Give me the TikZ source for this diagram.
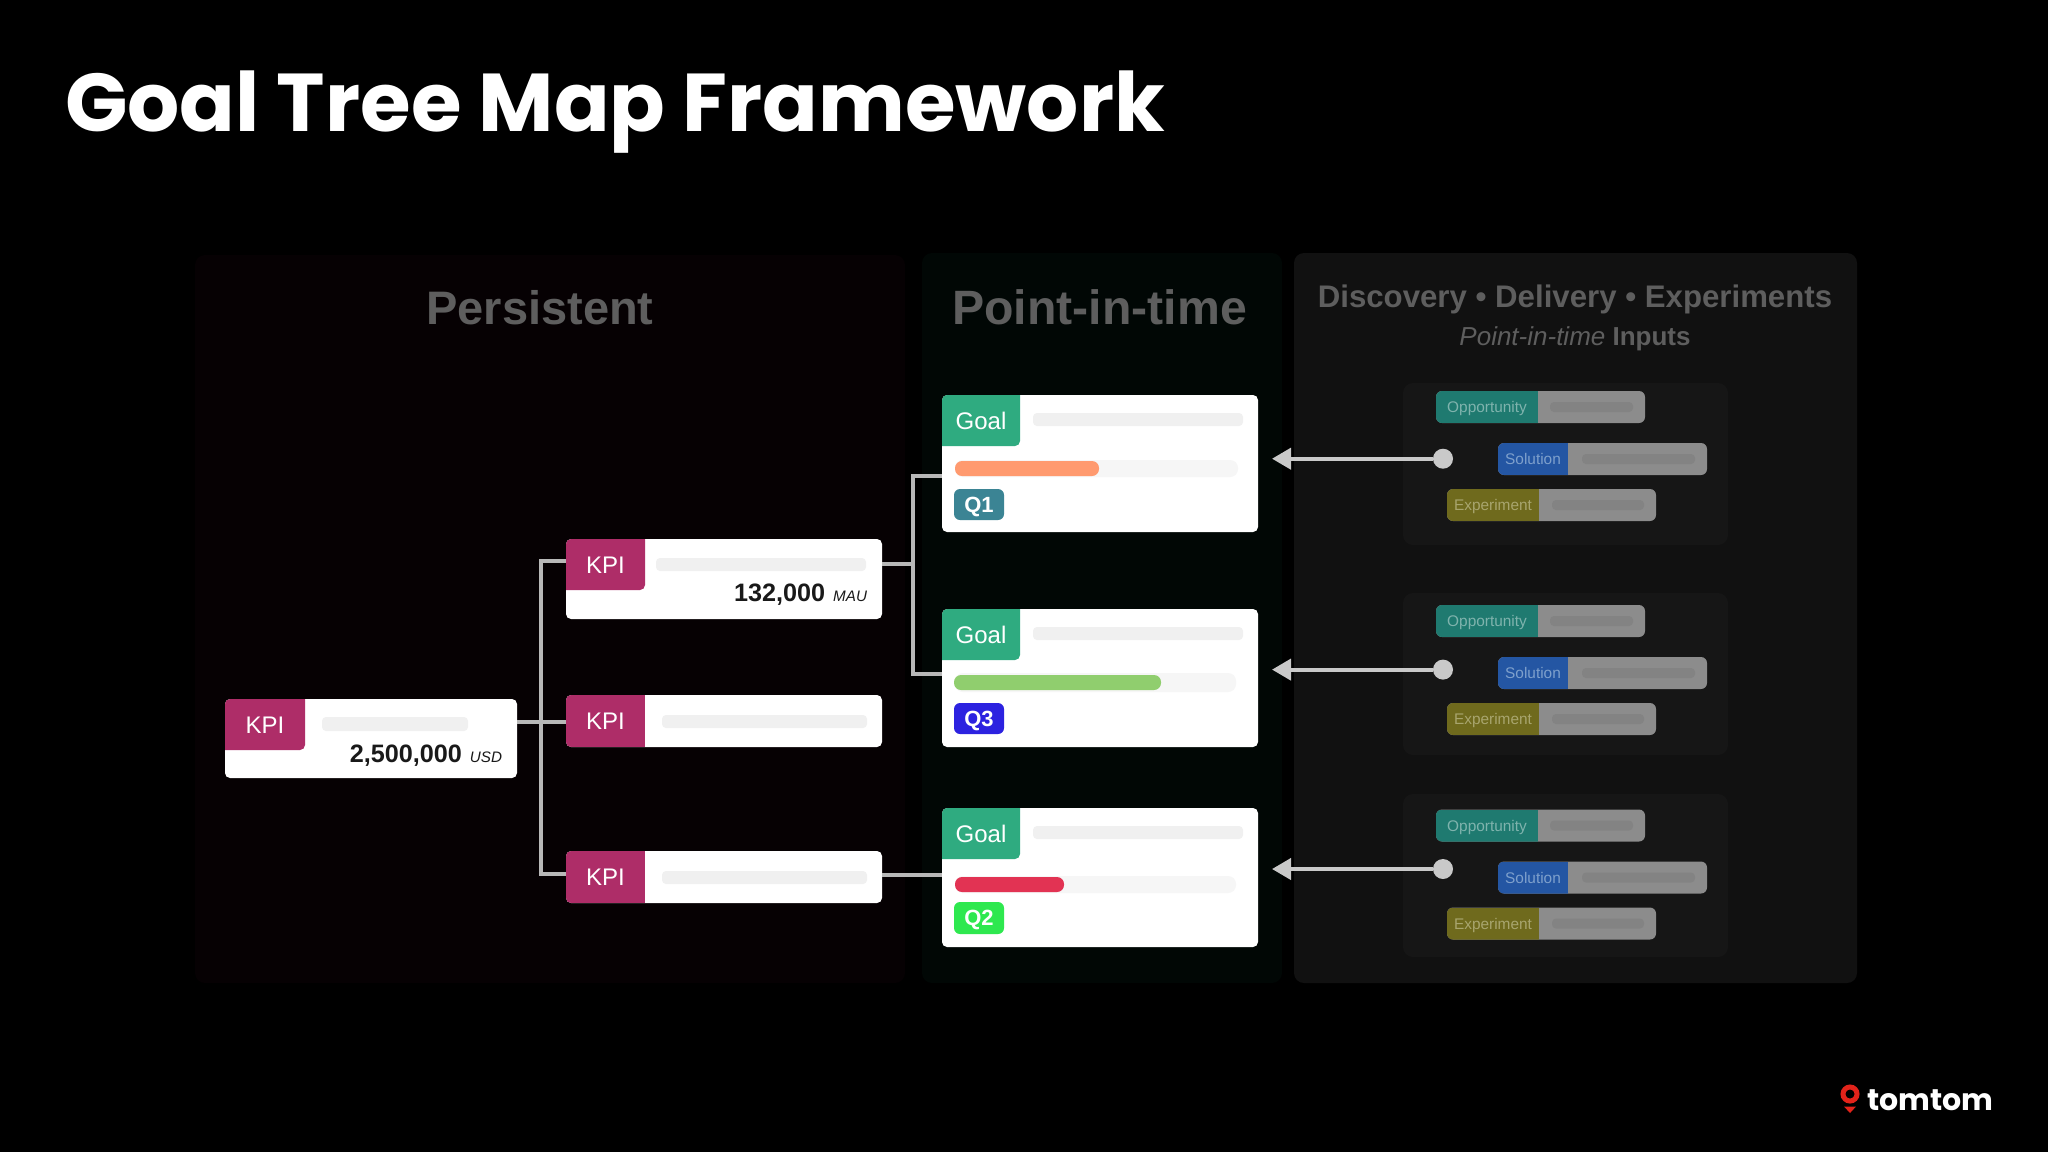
\documentclass[tikz,border=0pt]{standalone}
\usepackage{fontspec}
\usetikzlibrary{arrows.meta}
\setmainfont{Liberation Sans}
\newfontfamily\popf{Poppins}
\definecolor{pPers}{HTML}{060103}
\definecolor{pPoint}{HTML}{010705}
\definecolor{pDisc}{HTML}{111111}
\definecolor{pGroup}{HTML}{161616}
\definecolor{headC}{HTML}{5E5E5E}
\definecolor{lineC}{HTML}{B8B8B8}
\definecolor{arrC}{HTML}{C9C9C9}
\definecolor{kpiC}{HTML}{AE2D68}
\definecolor{goalC}{HTML}{2FAB80}
\definecolor{barC}{HTML}{F0F0F0}
\definecolor{trackC}{HTML}{F6F6F6}
\definecolor{oppC}{HTML}{1F7A70}
\definecolor{solC}{HTML}{2456A3}
\definecolor{expC}{HTML}{6F6A1D}
\definecolor{oppT}{HTML}{7FB3AD}
\definecolor{solT}{HTML}{7EA0CC}
\definecolor{expT}{HTML}{A8A56E}
\definecolor{inGray}{HTML}{8C8C8C}
\definecolor{inBar}{HTML}{838383}
\tikzset{
  plainbox/.style={inner sep=0pt,outer sep=0pt},
  panel/.style={plainbox,rounded corners=5pt},
  card/.style={plainbox,fill=white,rounded corners=2.5pt},
  pill/.style={plainbox,rounded corners=3pt},
  conn/.style={draw=lineC,line width=1.8pt},
  feed/.style={draw=arrC,line width=2pt,-{Triangle[length=9.5pt,width=10.5pt]}},
  dotnode/.style={circle,fill=arrC,inner sep=0pt,outer sep=0pt,minimum size=10pt},
  tabtext/.style={plainbox,text=white,text height=8.6pt,text depth=0pt,font=\fontsize{12}{14}\selectfont},
  head/.style={text=headC,font=\fontsize{23.5}{28}\selectfont\bfseries},
  num/.style={anchor=base east,plainbox,text=black!90,font=\fontsize{12.6}{15}\selectfont\bfseries},
  qtext/.style={plainbox,text=white,text height=7.9pt,text depth=0pt,font=\fontsize{11}{13}\selectfont\bfseries},
}
\newcommand{\bx}[7]{%
  \pgfmathsetmacro\bxw{(#5-#3)/2}\pgfmathsetmacro\bxh{(#6-#4)/2}%
  \node[#2,minimum width=\bxw pt,minimum height=\bxh pt] (#1) at ({(#3+#5)/2},{(#4+#6)/2}) {#7};}
% name, colour, card, x1,y1,x2,y2, radius, text
\newcommand{\tabbox}[9]{%
  \begin{scope}
  \clip[rounded corners=2.5pt] (#3.south west) rectangle (#3.north east);
  \fill[#2,rounded corners=#8] ({#4-20},{#5-20}) rectangle (#6,#7);
  \end{scope}
  \bx{#1}{tabtext}{#4}{#5}{#6}{#7}{#9}}
\newcommand{\unitt}[1]{\hspace{4pt}{\fontsize{7.6}{9}\selectfont\mdseries\itshape #1}}
% group: index, y offset of bars, box top, box bottom
\newcommand{\inputs}[4]{%
  \bx{grp#1}{panel,fill=pGroup}{1403}{#3}{1728}{#4}{}
  \foreach \nm/\xa/\xb/\xc/\ya/\colr/\colt/\lab/\ba/\bb in {
     o/1436/1538/1645/391/oppC/oppT/Opportunity/1550/1633,
     s/1498/1568/1707/443/solC/solT/Solution/1582/1695,
     e/1447/1539/1656/489/expC/expT/Experiment/1552/1644}{
    \pgfmathsetmacro\yt{\ya+#2}\pgfmathsetmacro\yb{\ya+#2+32}
    \pgfmathsetmacro\bt{\ya+#2+11}\pgfmathsetmacro\bbo{\ya+#2+21}
    \bx{in#1\nm}{pill,fill=inGray}{\xa}{\yt}{\xc}{\yb}{}
    \begin{scope}
      \clip[rounded corners=3pt] (in#1\nm.south west) rectangle (in#1\nm.north east);
      \fill[\colr] (\xa,\yt) rectangle (\xb,\yb);
    \end{scope}
    \bx{lab#1\nm}{plainbox,text=\colt,text height=5.6pt,text depth=0pt,font=\fontsize{7.7}{9}\selectfont}{\xa}{\yt}{\xb}{\yb}{\lab}
    \bx{inb#1\nm}{plainbox,fill=inBar,rounded corners=2pt}{\ba}{\bt}{\bb}{\bbo}{}
  }}
\begin{document}
\begin{tikzpicture}[x=0.5pt,y=-0.5pt]
\useasboundingbox (0,0) rectangle (2048,1152);
\fill[black] (0,0) rectangle (2048,1152);
% title
\node[anchor=base west,plainbox,text=white,font=\fontsize{41}{50}\selectfont\popf\bfseries] (title) at (65,131) {Goal Tree Map Framework};
% panels
\bx{persist}{panel,fill=pPers}{195}{255}{905}{983}{}
\bx{pointp}{panel,fill=pPoint}{922}{253}{1282}{983}{}
\bx{discp}{panel,fill=pDisc}{1294}{253}{1857}{983}{}
\node[head,anchor=base,plainbox] (hpers) at (540,324) {Persistent};
\node[head,anchor=base,plainbox,font=\fontsize{24.1}{28}\selectfont\bfseries] (hpoint) at (1099.5,324) {Point-in-time};
\node[text=headC,anchor=base,plainbox,font=\fontsize{15.6}{19}\selectfont\bfseries] (hdisc) at (1575,307) {Discovery • Delivery • Experiments};
\node[text=headC,anchor=base,plainbox,font=\fontsize{13}{16}\selectfont\bfseries] (hsub) at (1575,345) {\mdseries\itshape Point-in-time\/ \upshape\bfseries Inputs};
% input groups
\inputs{1}{0}{383}{545}
\inputs{2}{214}{593}{755}
\inputs{3}{418.5}{794}{957}
% cards
\bx{root}{card}{225}{699}{517}{778}{}
\bx{kpiA}{card}{566}{539}{882}{619}{}
\bx{kpiB}{card}{566}{695}{882}{747}{}
\bx{kpiC}{card}{566}{851}{882}{903}{}
\bx{goalA}{card}{942}{395}{1258}{532}{}
\bx{goalB}{card}{942}{609}{1258}{747}{}
\bx{goalC}{card}{942}{808}{1258}{947}{}
% connectors
\coordinate (trunk) at (541,722);
\coordinate (branch) at (913,564);
\coordinate (arrA) at (1272,458.7);
\coordinate (arrB) at (1272,669.6);
\coordinate (arrC) at (1272,869);
\draw[conn] ([yshift=-0.5pt]root.east |- kpiB.west) -- ([yshift=-0.5pt]kpiB.west);
\draw[conn] ([yshift=9pt]kpiA.west) -| (trunk) |- ([yshift=1.5pt]kpiC.west);
\draw[conn] ([yshift=7.5pt]kpiA.east) -- (branch);
\draw[conn] ([yshift=-6.25pt]goalA.west) -| (branch) |- ([yshift=2pt]goalB.west);
\draw[conn] ([yshift=1pt]kpiC.east) -- ([yshift=1pt]kpiC.east -| goalC.west);
% KPI tabs
\tabbox{tabRoot}{kpiC}{root}{225}{699}{305}{750}{2.5pt}{KPI}
\tabbox{tabA}{kpiC}{kpiA}{566}{539}{645}{590}{2.5pt}{KPI}
\tabbox{tabB}{kpiC}{kpiB}{566}{695}{645}{747}{0pt}{KPI}
\tabbox{tabC}{kpiC}{kpiC}{566}{851}{645}{903}{0pt}{KPI}
\bx{barRoot}{plainbox,fill=barC,rounded corners=2pt}{322}{717}{468}{731}{}
\bx{barA}{plainbox,fill=barC,rounded corners=2pt}{656}{558}{866}{571}{}
\bx{barB}{plainbox,fill=barC,rounded corners=2pt}{662}{715}{867}{728}{}
\bx{barC}{plainbox,fill=barC,rounded corners=2pt}{662}{871}{867}{884}{}
\node[num] (numRoot) at (502,762) {2,500,000\unitt{USD}};
\node[num] (numA) at (867,601) {132,000\unitt{MAU}};
% Goal cards
\tabbox{tgA}{goalC}{goalA}{942}{395}{1020}{446}{2.5pt}{Goal}
\tabbox{tgB}{goalC}{goalB}{942}{609}{1020}{660}{2.5pt}{Goal}
\tabbox{tgC}{goalC}{goalC}{942}{808}{1020}{859}{2.5pt}{Goal}
\bx{gbA}{plainbox,fill=barC,rounded corners=2pt}{1033}{413}{1243}{426}{}
\bx{gbB}{plainbox,fill=barC,rounded corners=2pt}{1033}{627}{1243}{640}{}
\bx{gbC}{plainbox,fill=barC,rounded corners=2pt}{1033}{826}{1243}{839}{}
\bx{trA}{plainbox,fill=trackC,rounded corners=4pt}{955}{460}{1238}{477}{}
\bx{trB}{plainbox,fill=trackC,rounded corners=4pt}{955}{673}{1236}{692}{}
\bx{trC}{plainbox,fill=trackC,rounded corners=4pt}{955}{876}{1236}{893}{}
\definecolor{fA}{HTML}{FF9A6F}\definecolor{fB}{HTML}{90CE6E}\definecolor{fC}{HTML}{E23353}
\bx{fiA}{plainbox,fill=fA,rounded corners=3.5pt}{955}{461}{1099}{476}{}
\bx{fiB}{plainbox,fill=fB,rounded corners=3.5pt}{954}{675}{1161}{690}{}
\bx{fiC}{plainbox,fill=fC,rounded corners=3.5pt}{955}{877}{1064}{892}{}
\definecolor{qA}{HTML}{3B8494}\definecolor{qB}{HTML}{2C22E0}\definecolor{qC}{HTML}{2EE84F}
\bx{qOne}{qtext,fill=qA,rounded corners=3pt}{954}{489}{1004}{520}{Q1}
\bx{qThree}{qtext,fill=qB,rounded corners=3pt}{954}{703}{1004}{734}{Q3}
\bx{qTwo}{qtext,fill=qC,rounded corners=3pt}{954}{902}{1004}{934}{Q2}
% arrows
\node[dotnode] (dotA) at (1443,458.7) {};
\node[dotnode] (dotB) at (1443,669.6) {};
\node[dotnode] (dotC) at (1443,869) {};
\draw[feed] (dotA) -- (arrA);
\draw[feed] (dotB) -- (arrB);
\draw[feed] (dotC) -- (arrC);
% logo
\definecolor{logoR}{HTML}{E2231A}
\node[circle,draw=logoR,line width=2.5pt,inner sep=0pt,outer sep=0pt,minimum size=7pt] (pin) at (1850,1094) {};
\fill[logoR] (1844,1106.5) -- (1856,1106.5) -- (1850,1113) -- cycle;
\node[anchor=base west,plainbox,text=white,font=\fontsize{15}{19}\selectfont\popf\bfseries] (logo) at (1867,1110) {tomtom};
\end{tikzpicture}
\end{document}
